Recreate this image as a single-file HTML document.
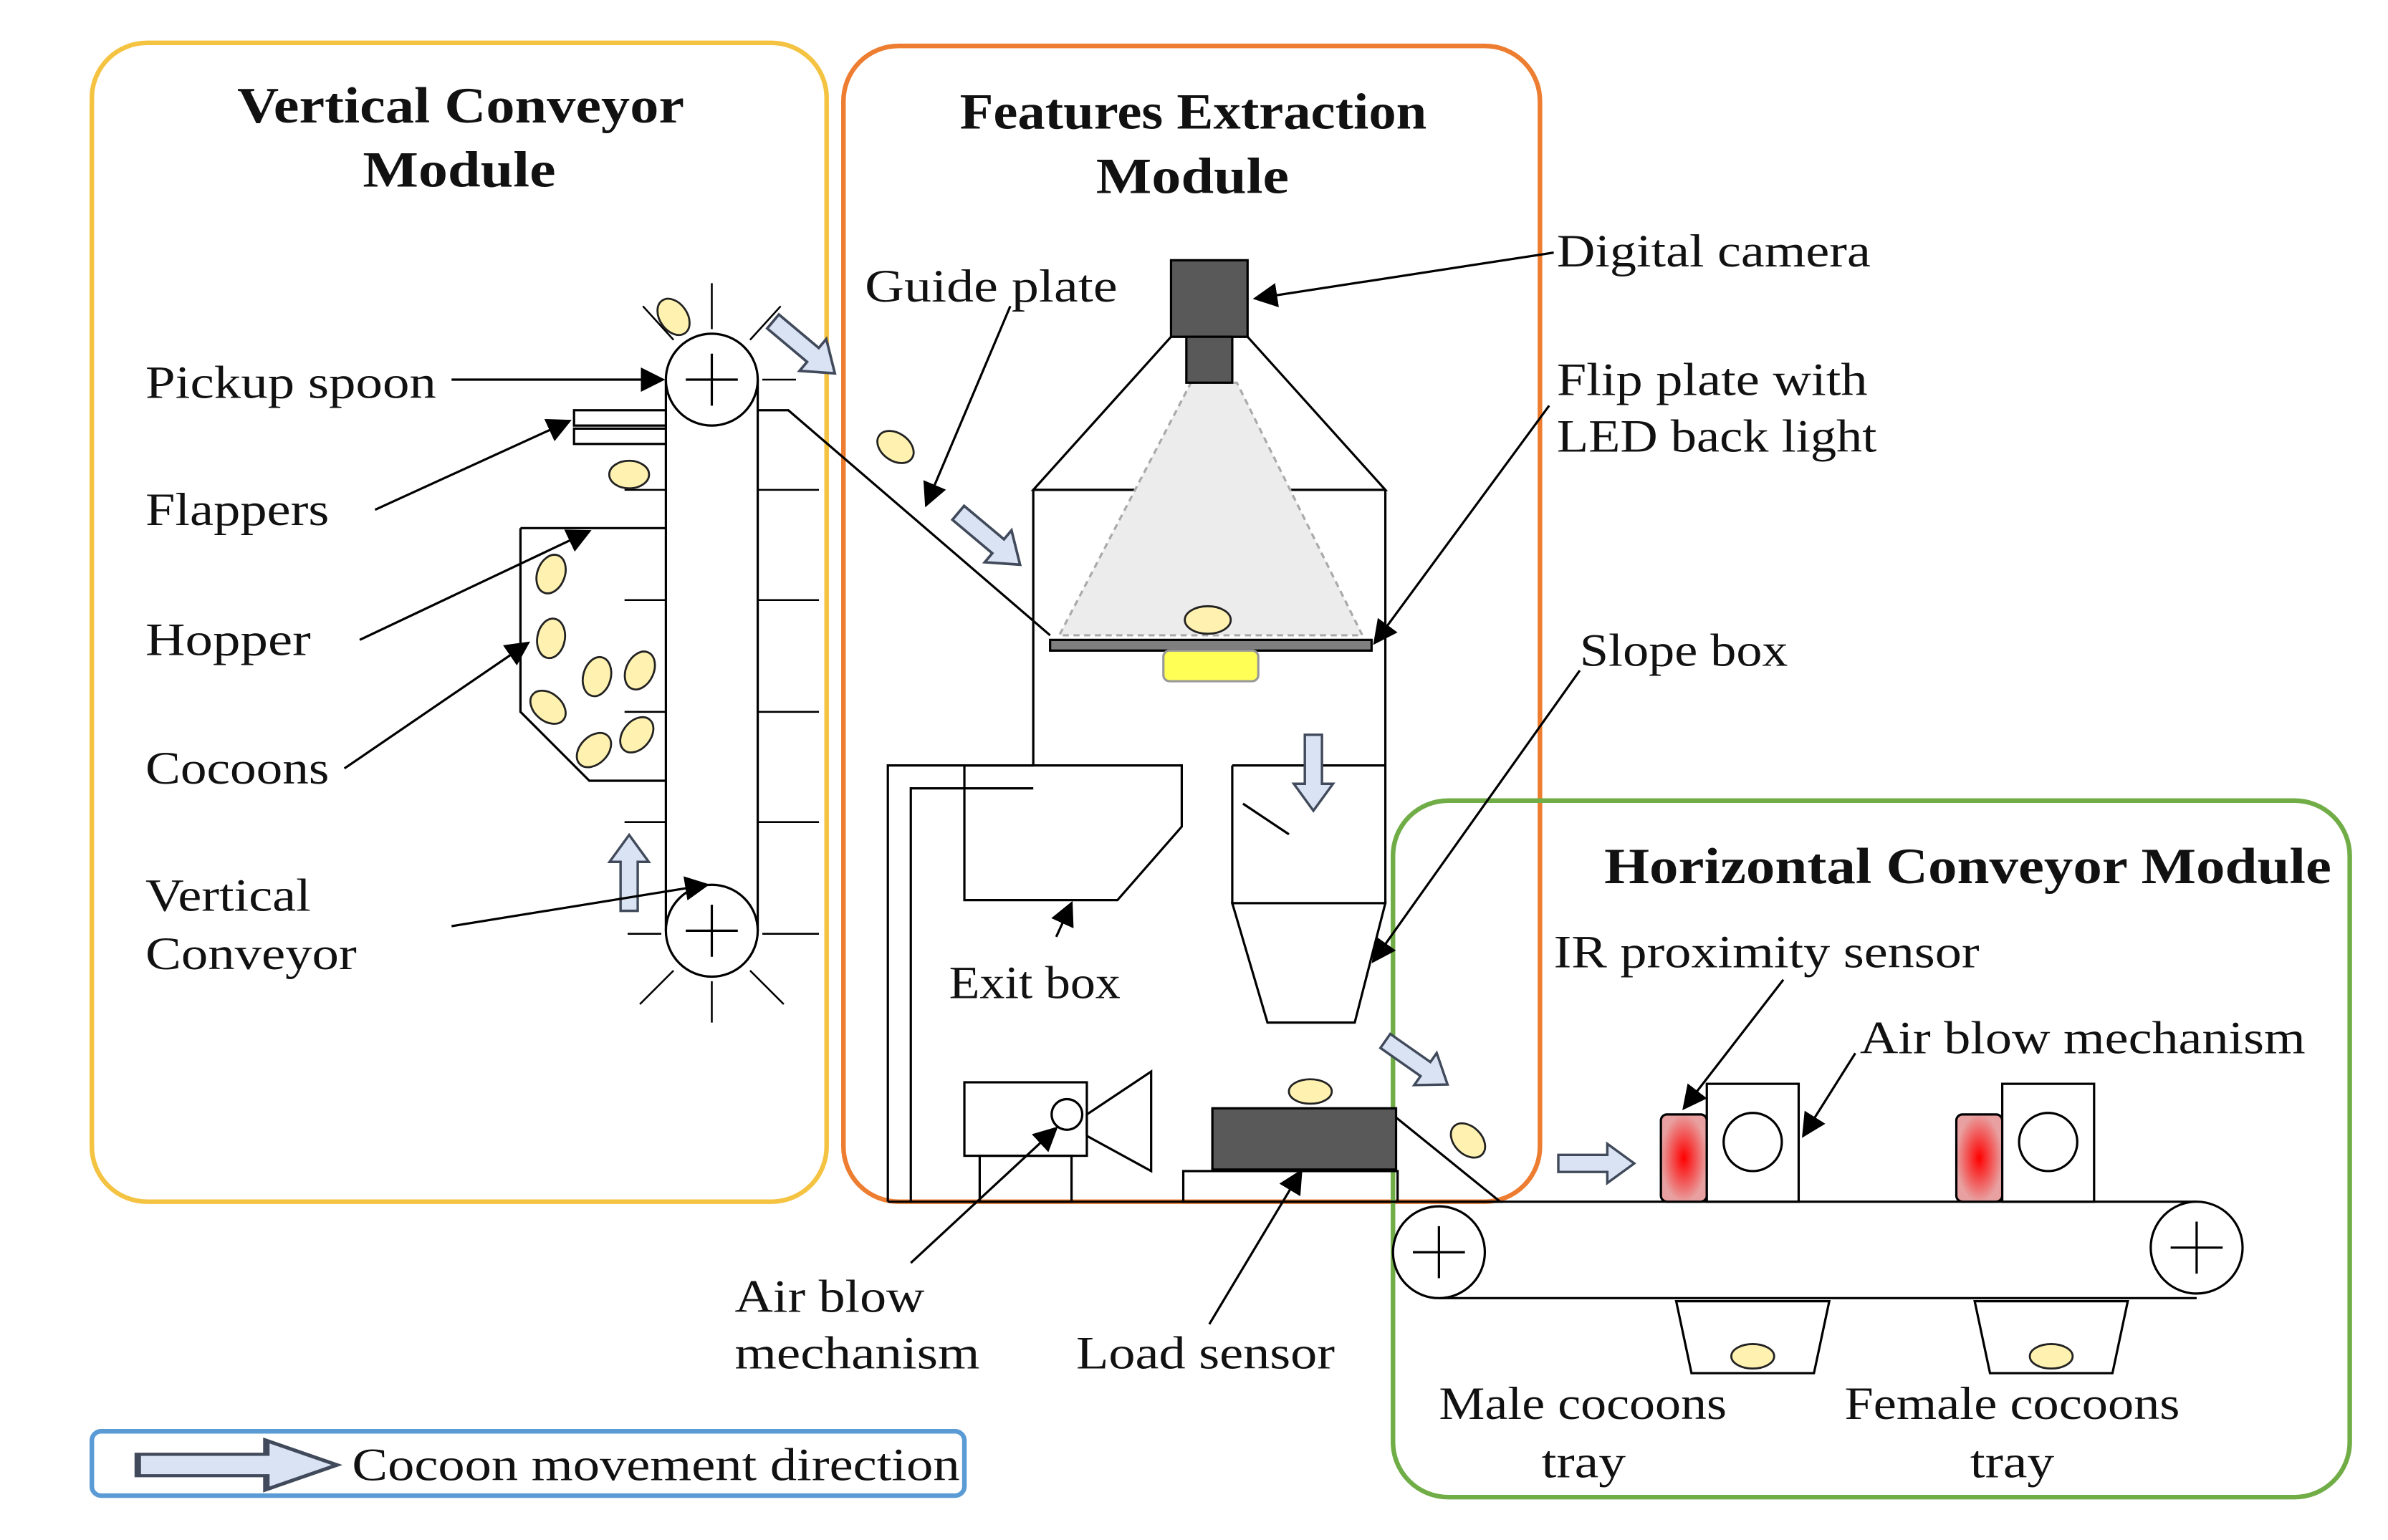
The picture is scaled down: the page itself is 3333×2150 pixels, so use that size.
<!DOCTYPE html>
<html><head><meta charset="utf-8"><style>
html,body{margin:0;padding:0;background:#fff;}
svg{display:block;}
text{font-family:"Liberation Serif",serif;fill:#111;}
.t{font-size:33px;font-weight:bold;}
.l{font-size:30px;}
</style></head><body>
<svg width="3333" height="2150" viewBox="0 0 1560 1006" preserveAspectRatio="none" xmlns="http://www.w3.org/2000/svg">
<defs>
<marker id="a" viewBox="0 0 10 10" markerWidth="16" markerHeight="16" refX="9" refY="5" orient="auto" markerUnits="userSpaceOnUse"><path d="M0,0 L10,5 L0,10z" fill="#000"/></marker>
<radialGradient id="rg"><stop offset="0" stop-color="#ff0000"/><stop offset="1" stop-color="#e8a0a0"/></radialGradient>
<g id="bar"><path d="M0,-7 L40,-7 L40,-16 L62,0 L40,16 L40,7 L0,7z" fill="#dae3f3" stroke="#404a5a" stroke-width="2"/></g>
</defs>
<g fill="none" stroke-width="3">
<rect x="60" y="28" width="480" height="757" rx="36" stroke="#f5c342"/>
<rect x="551" y="30" width="455" height="755" rx="36" stroke="#ed7d31"/>
<rect x="910" y="523" width="625" height="455" rx="36" stroke="#70ad47"/>
<rect x="60" y="935" width="570" height="42" rx="6" stroke="#5b9bd5"/>
</g>
<text class="t" x="155" y="80" textLength="292" lengthAdjust="spacingAndGlyphs">Vertical Conveyor</text>
<text class="t" x="237" y="122" textLength="126" lengthAdjust="spacingAndGlyphs">Module</text>
<text class="t" x="627" y="84" textLength="305" lengthAdjust="spacingAndGlyphs">Features Extraction</text>
<text class="t" x="716" y="126" textLength="126" lengthAdjust="spacingAndGlyphs">Module</text>
<text class="t" x="1048" y="577" textLength="475" lengthAdjust="spacingAndGlyphs">Horizontal Conveyor Module</text>
<g stroke="#000" stroke-width="1.5" fill="none">
<line x1="435" y1="248" x2="435" y2="608"/><line x1="495" y1="248" x2="495" y2="608"/>
<g stroke-width="1.2">
<line x1="465" y1="215" x2="465" y2="185"/><line x1="440" y1="222" x2="420" y2="200"/><line x1="490" y1="222" x2="510" y2="200"/><line x1="432" y1="248" x2="410" y2="248"/><line x1="498" y1="248" x2="520" y2="248"/>
<line x1="465" y1="641" x2="465" y2="668"/><line x1="440" y1="634" x2="418" y2="656"/><line x1="490" y1="634" x2="512" y2="656"/><line x1="432" y1="610" x2="410" y2="610"/><line x1="498" y1="610" x2="535" y2="610"/>
</g>
<g stroke-width="1.2">
<line x1="495" y1="320" x2="535" y2="320"/><line x1="495" y1="392" x2="535" y2="392"/><line x1="495" y1="465" x2="535" y2="465"/><line x1="495" y1="537" x2="535" y2="537"/>
<line x1="408" y1="320" x2="435" y2="320"/><line x1="408" y1="392" x2="435" y2="392"/><line x1="408" y1="465" x2="435" y2="465"/><line x1="408" y1="537" x2="435" y2="537"/>
</g>
<circle cx="465" cy="248" r="30" fill="#fff"/><path d="M448,248 H482 M465,231 V265"/>
<circle cx="465" cy="608" r="30" fill="#fff"/><path d="M448,608 H482 M465,591 V625"/>
<rect x="375" y="268" width="60" height="10" fill="#fff"/><rect x="375" y="280" width="60" height="10" fill="#fff"/>
<path d="M340,345 L435,345 M340,345 L340,465 L385,510 L435,510"/>
<polyline points="495,268 515,268 686,415"/>
<polygon points="765,220 815,220 905,320 675,320" fill="#fff"/>
<polygon points="778,250 808,250 890,415 692,415" fill="#ececec" stroke="#aaa" stroke-dasharray="4,3"/>
<rect x="765" y="170" width="50" height="50" fill="#595959"/>
<rect x="775" y="220" width="30" height="30" fill="#595959"/>
<path d="M675,320 L675,500 M905,320 L905,590"/>
<rect x="686" y="418" width="210" height="7" fill="#7f7f7f"/>
<rect x="760" y="425" width="62" height="20" rx="4" fill="#ffff55" stroke="#999"/>
<path d="M805,500 L905,500 M805,500 L805,590 L905,590 M812,525 L842,545"/>
<polygon points="805,590 905,590 885,668 828,668"/>
<polygon points="630,500 772,500 772,540 730,588 630,588"/>
<path d="M580,785 L580,500 L675,500 M595,785 L595,515 L675,515"/>
<rect x="630" y="707" width="80" height="48" fill="#fff"/>
<circle cx="697" cy="728" r="10"/>
<polygon points="710,728 752,700 752,765 710,742"/>
<rect x="640" y="755" width="60" height="30"/>
<rect x="792" y="724" width="120" height="40" fill="#595959"/>
<rect x="773" y="765" width="140" height="20"/>
<path d="M912,730 L980,785 L580,785"/>
<path d="M940,785 L1435,785 M940,848 L1435,848"/>
<circle cx="940" cy="818" r="30" fill="#fff"/><path d="M923,818 H957 M940,801 V835"/>
<circle cx="1435" cy="815" r="30" fill="#fff"/><path d="M1418,815 H1452 M1435,798 V832"/>
<polygon points="1095,850 1195,850 1185,897 1105,897"/>
<polygon points="1290,850 1390,850 1380,897 1300,897"/>
<rect x="1085" y="728" width="30" height="57" rx="4" fill="url(#rg)"/>
<rect x="1115" y="708" width="60" height="77" fill="#fff"/><circle cx="1145" cy="746" r="19"/>
<rect x="1278" y="728" width="30" height="57" rx="4" fill="url(#rg)"/>
<rect x="1308" y="708" width="60" height="77" fill="#fff"/><circle cx="1338" cy="746" r="19"/>
</g>
<g fill="#fff2b0" stroke="#222" stroke-width="1.3">
<ellipse cx="440" cy="207" rx="9" ry="13" transform="rotate(-35 440 207)"/>
<ellipse cx="411" cy="310" rx="13" ry="9"/>
<ellipse cx="360" cy="375" rx="9" ry="13" transform="rotate(20 360 375)"/>
<ellipse cx="360" cy="417" rx="9" ry="13" transform="rotate(10 360 417)"/>
<ellipse cx="390" cy="442" rx="9" ry="13" transform="rotate(15 390 442)"/>
<ellipse cx="418" cy="438" rx="9" ry="13" transform="rotate(25 418 438)"/>
<ellipse cx="358" cy="462" rx="9" ry="13" transform="rotate(-50 358 462)"/>
<ellipse cx="388" cy="490" rx="9" ry="13" transform="rotate(45 388 490)"/>
<ellipse cx="416" cy="480" rx="9" ry="13" transform="rotate(40 416 480)"/>
<ellipse cx="585" cy="292" rx="9" ry="13" transform="rotate(-55 585 292)"/>
<ellipse cx="789" cy="405" rx="15" ry="9"/>
<ellipse cx="856" cy="713" rx="14" ry="8"/>
<ellipse cx="959" cy="745" rx="9" ry="13" transform="rotate(-45 959 745)"/>
<ellipse cx="1145" cy="886" rx="14" ry="8"/>
<ellipse cx="1340" cy="886" rx="14" ry="8"/>
</g>
<use href="#bar" transform="translate(505,210) rotate(40) scale(0.85)"/>
<use href="#bar" transform="translate(626,335) rotate(40) scale(0.85)"/>
<use href="#bar" transform="translate(858,480) rotate(90) scale(0.8)"/>
<use href="#bar" transform="translate(905,680) rotate(35) scale(0.8)"/>
<use href="#bar" transform="translate(1018,760) scale(0.8)"/>
<use href="#bar" transform="translate(411,595) rotate(-90) scale(0.8)"/>
<use href="#bar" transform="translate(90,957) scale(2.1,1)"/>
<g stroke="#000" stroke-width="1.5" marker-end="url(#a)">
<line x1="295" y1="248" x2="433" y2="248"/>
<line x1="245" y1="333" x2="372" y2="275"/>
<line x1="235" y1="418" x2="385" y2="347"/>
<line x1="225" y1="502" x2="345" y2="420"/>
<line x1="295" y1="605" x2="462" y2="578"/>
<line x1="660" y1="200" x2="605" y2="330"/>
<line x1="1015" y1="165" x2="820" y2="195"/>
<line x1="1012" y1="265" x2="898" y2="420"/>
<line x1="1032" y1="438" x2="897" y2="628"/>
<line x1="690" y1="612" x2="700" y2="590"/>
<line x1="595" y1="825" x2="690" y2="737"/>
<line x1="790" y1="865" x2="850" y2="765"/>
<line x1="1165" y1="640" x2="1100" y2="724"/>
<line x1="1212" y1="688" x2="1178" y2="742"/>
</g>
<g>
<text class="l" x="95" y="260" textLength="190" lengthAdjust="spacingAndGlyphs">Pickup spoon</text>
<text class="l" x="95" y="343" textLength="120" lengthAdjust="spacingAndGlyphs">Flappers</text>
<text class="l" x="95" y="428" textLength="108" lengthAdjust="spacingAndGlyphs">Hopper</text>
<text class="l" x="95" y="512" textLength="120" lengthAdjust="spacingAndGlyphs">Cocoons</text>
<text class="l" x="95" y="595" textLength="108" lengthAdjust="spacingAndGlyphs">Vertical</text>
<text class="l" x="95" y="633" textLength="138" lengthAdjust="spacingAndGlyphs">Conveyor</text>
<text class="l" x="565" y="197" textLength="165" lengthAdjust="spacingAndGlyphs">Guide plate</text>
<text class="l" x="1017" y="174" textLength="205" lengthAdjust="spacingAndGlyphs">Digital camera</text>
<text class="l" x="1017" y="258" textLength="203" lengthAdjust="spacingAndGlyphs">Flip plate with</text>
<text class="l" x="1017" y="295" textLength="209" lengthAdjust="spacingAndGlyphs">LED back light</text>
<text class="l" x="1032" y="435" textLength="136" lengthAdjust="spacingAndGlyphs">Slope box</text>
<text class="l" x="620" y="652" textLength="112" lengthAdjust="spacingAndGlyphs">Exit box</text>
<text class="l" x="480" y="857" textLength="124" lengthAdjust="spacingAndGlyphs">Air blow</text>
<text class="l" x="480" y="894" textLength="160" lengthAdjust="spacingAndGlyphs">mechanism</text>
<text class="l" x="703" y="894" textLength="169" lengthAdjust="spacingAndGlyphs">Load sensor</text>
<text class="l" x="1015" y="632" textLength="278" lengthAdjust="spacingAndGlyphs">IR proximity sensor</text>
<text class="l" x="1215" y="688" textLength="291" lengthAdjust="spacingAndGlyphs">Air blow mechanism</text>
<text class="l" x="940" y="927" textLength="188" lengthAdjust="spacingAndGlyphs">Male cocoons</text>
<text class="l" x="1007" y="965" textLength="55" lengthAdjust="spacingAndGlyphs">tray</text>
<text class="l" x="1205" y="927" textLength="219" lengthAdjust="spacingAndGlyphs">Female cocoons</text>
<text class="l" x="1287" y="965" textLength="55" lengthAdjust="spacingAndGlyphs">tray</text>
<text class="l" x="230" y="967" textLength="397" lengthAdjust="spacingAndGlyphs">Cocoon movement direction</text>
</g>
</svg>
</body></html>
